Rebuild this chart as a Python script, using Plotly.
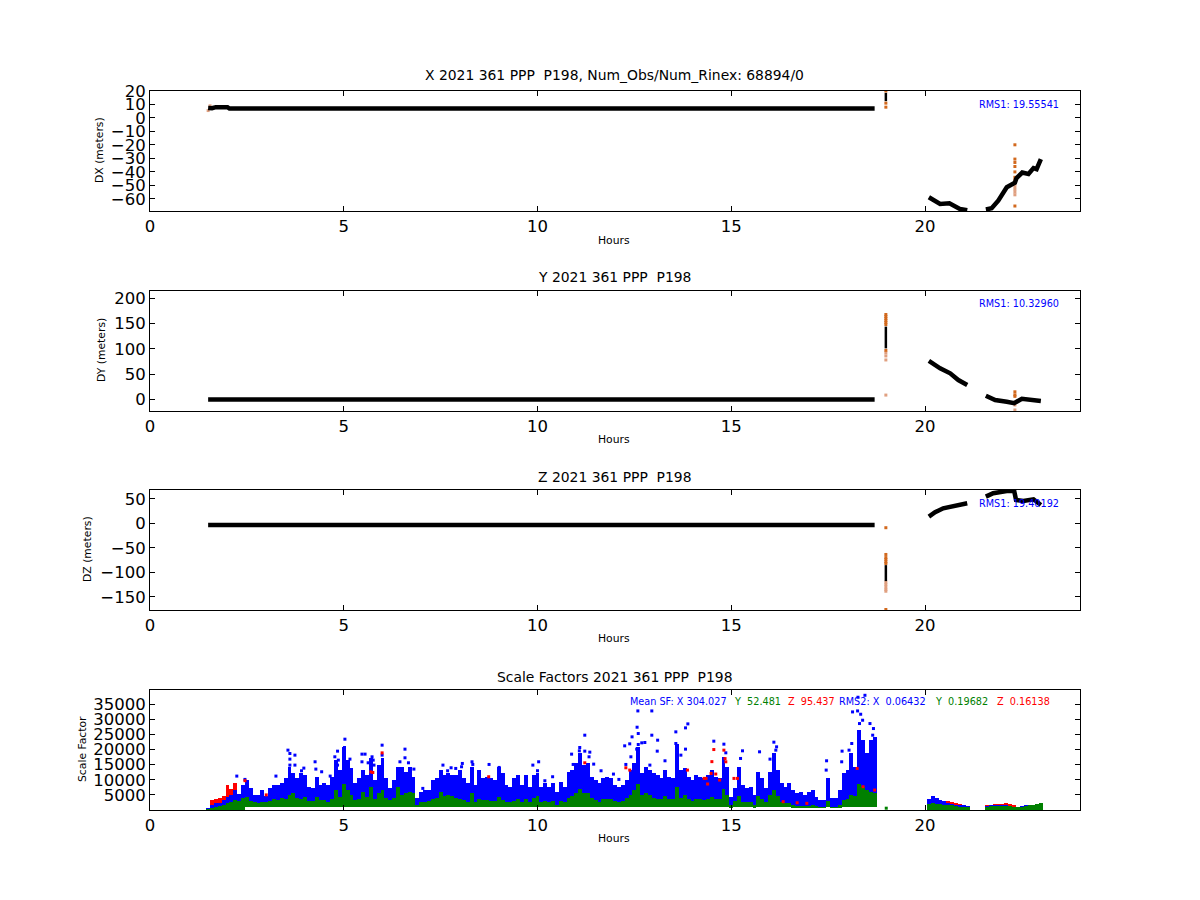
import plotly.graph_objects as go

# values
X_TICKS = [0, 5, 10, 15, 20]
DX_TICKS = [20, 10, 0, -10, -20, -30, -40, -50, -60]
DY_TICKS = [0, 50, 100, 150, 200]
DZ_TICKS = [50, 0, -50, -100, -150]
SF_TICKS = [5000, 10000, 15000, 20000, 25000, 30000, 35000]

DX_HOURS = [1.5, 1.6, 1.7, 2.0, 2.05, 18.7, None,
            20.1, 20.26, 20.39, 20.63, 20.77, 20.9, 21.09, None,
            21.57, 21.72, 21.89, 22.11, 22.32, 22.36, 22.51, 22.67, 22.8, 22.88, 22.99]
DX_VALUES = [7.4, 7.2, 8, 8, 7, 7, None,
             -58.8, -62.1, -63.8, -63.3, -65.8, -67.5, -68.5, None,
             -67.8, -67, -61.3, -51.4, -48, -44.7, -40.5, -41.5, -37.2, -38, -30.5]
DX_SPIKE_HOURS = [18.99, 18.99]
DX_SPIKE_VALUES = [12.5, 18.6]
DX_OUT_HOURS = [18.99, 18.99, 18.99, 22.32, 22.32, 22.32, 22.32, 22.32, 22.32, 22.32, 22.32]
DX_OUT_VALUES = [20, 11, 8, -19.9, -30.5, -33, -36, -40, -44, -46, -65.3]
DX_PALE_HOURS = [22.32, 22.32, 22.32, 22.32, 22.32, 1.5, 1.55]
DX_PALE_VALUES = [-49, -51, -53, -55, -57, 5.5, 9]

DY_HOURS = [1.5, 18.7, None,
            20.1, 20.39, 20.65, 20.86, 21.09, None,
            21.57, 21.81, 22.11, 22.3, 22.5, 22.75, 22.99]
DY_VALUES = [0, 0, None,
             76, 61.5, 51.6, 38.3, 28.4, None,
             7.2, -1.4, -4.7, -7.4, 1.3, -1.4, -3.4]
DY_SPIKE_HOURS = [18.99, 18.99]
DY_SPIKE_VALUES = [101, 144]
DY_OUT_HOURS = [18.99, 18.99, 18.99, 18.99, 18.99, 18.99, 18.99, 22.32, 22.32, 22.32, 22.32]
DY_OUT_VALUES = [168, 164, 160, 156, 152, 148, 97, 15, 9, 6, -6]
DY_PALE_HOURS = [18.99, 18.99, 18.99, 18.99, 22.32, 22.32]
DY_PALE_VALUES = [92, 86, 78, 8.5, -11, -21]

DZ_HOURS = [1.5, 18.7, None,
            20.1, 20.26, 20.47, 20.81, 21.09, None,
            21.57, 21.76, 22.11, 22.3, 22.35, 22.54, 22.8, 22.99]
DZ_VALUES = [-3.5, -3.5, None,
             13.5, 22.5, 30.7, 35.4, 41, None,
             54.5, 61.5, 66, 66.5, 47.7, 45.7, 49, 37.5]
DZ_SPIKE_HOURS = [18.99, 18.99]
DZ_SPIKE_VALUES = [-85.4, -118]
DZ_OUT_HOURS = [18.99, 18.99, 18.99, 18.99, 18.99, 18.99, 18.99]
DZ_OUT_VALUES = [-9, -63.6, -70, -74, -78.6, -82, -176]
DZ_PALE_HOURS = [18.99, 18.99, 18.99, 18.99, 18.99]
DZ_PALE_VALUES = [-120, -125, -130, -135, -138.7]

SF_HOURS = [
    1.5, 1.6, 1.7, 1.8, 1.9, 2.0, 2.1, 2.2, 2.3, 2.4,
    2.5, 2.6, 2.7, 2.8, 2.9, 3.0, 3.1, 3.2, 3.3, 3.4,
    3.5, 3.6, 3.7, 3.8, 3.9, 4.0, 4.1, 4.2, 4.3, 4.4,
    4.5, 4.6, 4.7, 4.8, 4.9, 5.0, 5.1, 5.2, 5.3, 5.4,
    5.5, 5.6, 5.7, 5.8, 5.9, 6.0, 6.1, 6.2, 6.3, 6.4,
    6.5, 6.6, 6.7, 6.8, 6.9, 7.0, 7.1, 7.2, 7.3, 7.4,
    7.5, 7.6, 7.7, 7.8, 7.9, 8.0, 8.1, 8.2, 8.3, 8.4,
    8.5, 8.6, 8.7, 8.8, 8.9, 9.0, 9.1, 9.2, 9.3, 9.4,
    9.5, 9.6, 9.7, 9.8, 9.9, 10.0, 10.1, 10.2, 10.3, 10.4,
    10.5, 10.6, 10.7, 10.8, 10.9, 11.0, 11.1, 11.2, 11.3, 11.4,
    11.5, 11.6, 11.7, 11.8, 11.9, 12.0, 12.1, 12.2, 12.3, 12.4,
    12.5, 12.6, 12.7, 12.8, 12.9, 13.0, 13.1, 13.2, 13.3, 13.4,
    13.5, 13.6, 13.7, 13.8, 13.9, 14.0, 14.1, 14.2, 14.3, 14.4,
    14.5, 14.6, 14.7, 14.8, 14.9, 15.0, 15.1, 15.2, 15.3, 15.4,
    15.5, 15.6, 15.7, 15.8, 15.9, 16.0, 16.1, 16.2, 16.3, 16.4,
    16.5, 16.6, 16.7, 16.8, 16.9, 17.0, 17.1, 17.2, 17.3, 17.4,
    17.5, 17.6, 17.7, 17.8, 17.9, 18.0, 18.1, 18.2, 18.3, 18.4,
    18.5, 18.6, 18.7,
    20.1, 20.2, 20.3, 20.4, 20.5, 20.6, 20.7, 20.8, 20.9, 21.0, 21.1,
    21.6, 21.7, 21.8, 21.9, 22.0, 22.1, 22.2, 22.3, 22.4, 22.5, 22.6, 22.7, 22.8, 22.9, 23.0,
]
SF_BLUE = [
    550, 1650, 2200, 2400, 3300, 4400, 5000, 6600, 5300, 8250,
    9900, 7150, 5000, 5000, 6600, 4600, 7150, 8250, 8250, 8800,
    10450, 14300, 12100, 10450, 12100, 11550, 7700, 7150, 11000, 8250,
    8800, 8250, 11000, 16500, 13200, 20900, 16500, 13750, 8800, 10450,
    13200, 11550, 17050, 9900, 14850, 17050, 10450, 7150, 9900, 14300,
    14300, 12650, 14300, 11000, 3850, 6050, 6600, 6600, 9900, 10450,
    13200, 11550, 12100, 11550, 11550, 13200, 10450, 8800, 14300, 8250,
    13200, 10450, 11000, 10450, 9900, 14300, 12100, 8250, 7700, 10450,
    11550, 8250, 11550, 7700, 11550, 12100, 7700, 8800, 7700, 8800,
    6050, 9350, 7700, 12650, 13200, 15400, 18700, 14850, 15400, 11000,
    9900, 8800, 10450, 11000, 10450, 8250, 7700, 8250, 9900, 13200,
    15400, 20900, 12100, 14300, 13200, 12100, 11550, 10450, 13200, 11000,
    10450, 22000, 13200, 13750, 11000, 9900, 11550, 11000, 10450, 11550,
    13200, 11000, 10450, 17600, 14300, 4400, 7150, 14300, 8250, 7150,
    7700, 5000, 12650, 10450, 7150, 12650, 18700, 13200, 8800, 7700,
    8800, 6600, 5500, 6050, 5000, 6050, 6600, 4400, 3300, 3300,
    10450, 3850, 3850, 6600, 12100, 13200, 18700, 14300, 26400, 23100,
    18700, 23100, 24200,
    3520, 4620, 3850, 3300, 2860, 2200, 1900, 1800, 1650, 1500, 1320,
    1430, 1500, 1550, 1600, 1600, 1650, 1400, 1000, 900, 1430, 1500, 1600, 1650, 1900, 2200,
]
SF_GREEN = [
    200, 800, 1100, 1300, 1500, 2200, 2750, 3300, 3000, 4000,
    4400, 3000, 2500, 2400, 2800, 2700, 3000, 3600, 3300, 4000,
    3600, 4800, 5500, 4000, 3800, 4200, 3000, 3000, 4400, 3300,
    3300, 2800, 3800, 6600, 4400, 8500, 6500, 4800, 3300, 3600,
    6000, 4400, 7700, 3500, 5500, 6500, 4000, 3300, 4000, 7500,
    5000, 5500, 6000, 5500, 1800, 2500, 2800, 3000, 3500, 4000,
    6000, 4500, 5000, 4500, 4000, 3800, 3300, 2800, 5500, 2800,
    3600, 3300, 3300, 3000, 3000, 4400, 3300, 2800, 2500, 3000,
    3500, 2800, 3500, 2500, 4000, 4500, 2500, 3000, 2800, 3000,
    1800, 3000, 2500, 4000, 4500, 5500, 7000, 5500, 5500, 4000,
    3300, 2800, 3500, 3800, 3500, 3000, 2500, 3000, 4000, 5000,
    6500, 8500, 5000, 5500, 5000, 4000, 3500, 3500, 4500, 3500,
    3500, 7500, 4000, 5000, 3500, 3000, 3500, 3500, 3300, 3800,
    4400, 3500, 3500, 7000, 5000, 1500, 3000, 4500, 2800, 2500,
    2500, 1500, 4500, 3500, 2500, 5000, 6500, 4500, 2500, 2200,
    2200, 1500, 1200, 1300, 1100, 1300, 1500, 1000, 800, 800,
    3000, 700, 800, 1500, 3300, 3500, 5000, 4500, 8500, 7500,
    6500, 6000, 5500,
    1870, 2200, 2100, 1900, 1800, 1700, 1550, 1300, 1100, 1000, 880,
    1100, 1200, 1250, 1300, 1350, 1430, 1200, 1000, 880, 1100, 1300, 1500, 1650, 1900, 2200,
]
SF_RED_HOURS = [1.6, 1.7, 1.8, 1.9, 2.0, 2.1, 2.2,
                20.1, 20.2, 20.3, 20.4, 20.5, 20.6, 20.7, 20.8, 20.9, 21.0, 21.1,
                21.6, 21.7, 21.8, 21.9, 22.0, 22.1, 22.2, 22.3, 22.4]
SF_RED = [3300, 3520, 3850, 4620, 8250, 6820, 9020,
          3000, 3500, 3600, 3300, 3100, 2900, 2500, 2250, 1900, 1600, 1430,
          1650, 1750, 1870, 1950, 2000, 2200, 2100, 1700, 1100]

BLUE_OUT_HOURS = [
    2.24, 2.45, 3.25, 3.56, 3.61, 3.74, 3.61, 3.61, 3.74, 3.91, 3.97, 4.26, 4.28, 4.43, 4.65,
    4.77, 4.84, 4.86, 4.84, 5.03, 5.02, 5.01, 5.16, 5.47, 5.55, 5.47, 5.73, 5.76, 5.63, 5.99,
    5.99, 5.78, 6.58, 6.45, 6.67, 6.58, 6.71, 6.81, 7.04, 7.56, 7.68, 7.77, 7.89, 8.06, 8.04,
    8.31, 8.33, 8.32, 8.75, 9.01, 9.88, 10.03, 10.0, 10.39, 10.19, 10.88, 11.09, 11.08, 11.22,
    11.22, 11.35, 11.33, 11.45, 10.92, 11.64, 11.96, 12.1, 12.59, 12.57, 12.6, 12.44, 12.25,
    12.38, 12.69, 12.6, 12.41, 12.28, 12.56, 12.77, 12.9, 12.95, 13.88, 13.82, 13.57, 13.57,
    12.95, 13.1, 13.09, 13.29, 13.7, 13.82, 14.55, 14.81, 14.86, 15.29, 15.24, 15.73, 16.1,
    16.17, 16.15, 16.0, 17.46, 17.45, 17.86, 17.85, 18.13, 18.26, 18.34, 18.39, 18.31, 18.58,
    18.67, 18.65, 18.11, 18.04, 18.27, 18.45,
]
BLUE_OUT_VALUES = [
    11220, 10120, 11220, 19800, 18700, 18150, 16830, 14850, 14850, 12980, 13860, 15950, 13530, 12650, 11220,
    17600, 19470, 16500, 14850, 23430, 20680, 19250, 16830, 18480, 18480, 15950, 17600, 16500, 15620, 21450,
    18150, 14850, 20130, 15950, 15620, 17270, 13200, 13530, 7150, 14850, 12980, 13970, 13750, 15400, 14300,
    15950, 15070, 13750, 15070, 14080, 14850, 15950, 13000, 11000, 9680, 18480, 20680, 19580, 24750,
    19470, 19140, 17600, 15180, 15070, 12980, 11880, 10120, 32780, 27390, 25300, 24200, 21230,
    21890, 22220, 21670, 17600, 15070, 20130, 22330, 14850, 32780, 28490, 27170, 25850, 22000,
    24750, 23100, 19470, 16280, 18150, 20130, 22770, 21780, 18920, 19580, 17050, 19250, 22440,
    20900, 19800, 16830, 16280, 13200, 19470, 15950, 32450, 32780, 31680, 29700, 28600, 28600,
    26950, 24750, 22000, 19800, 37300, 37950,
]
RED_OUT_HOURS = [2.45, 5.99, 5.7, 5.75, 3.0, 8.74, 11.22, 12.28, 12.38, 13.87, 14.3, 14.39, 14.35,
                 14.55, 14.5, 14.81, 14.84, 14.86, 15.07, 15.16, 14.48, 14.6, 14.7, 18.25, 18.4, 18.7,
                 16.34, 16.7, 16.95]
RED_OUT_VALUES = [9700, 18900, 12600, 12400, 5000, 11000, 15620, 13970, 13200, 13200, 10450, 8600, 10450,
                  20000, 16000, 19800, 17000, 15950, 10450, 10450, 12100, 11900, 9900, 13750, 7700, 6600,
                  2750, 2400, 2200]
GREEN_OUT_HOURS = [19.0]
GREEN_OUT_VALUES = [600]

RMS_LABELS = ["RMS1: 19.55541", "RMS1: 10.32960", "RMS1: 19.40192"]
PANEL_TITLES = ["X 2021 361 PPP  P198, Num_Obs/Num_Rinex: 68894/0", "Y 2021 361 PPP  P198",
                "Z 2021 361 PPP  P198", "Scale Factors 2021 361 PPP  P198"]

W, H = 1200, 900
PAGE = 8  # the browser's default body margin
FONT = "DejaVu Sans"
ORANGE = "#d2691e"
PALE = "#e0a080"

# panel pixel boxes: top, bottom, y range, ticks, y label, label x, title y, hours y
panels = [
    (91, 211, [-69, 20], DX_TICKS, "DX (meters)", 99, 75, 240),
    (291, 411, [-23, 214.5], DY_TICKS, "DY (meters)", 101, 277, 439),
    (490, 610, [-177, 68], DZ_TICKS, "DZ (meters)", 87, 477, 638),
    (690, 810, [0, 39700], SF_TICKS, "Scale Factor", 82, 677, 838),
]


def note(text, px, py, size, color="black", anchor="center", angle=0):
    return dict(text=text, x=(px - PAGE) / W, y=1 - (py - PAGE) / H, xref="paper", yref="paper", showarrow=False,
                xanchor=anchor, yanchor="middle", textangle=angle, font=dict(size=size, color=color, family=FONT))


fig = go.Figure()
layout = dict(width=W, height=H, margin=dict(l=0, r=0, t=0, b=0, autoexpand=False), showlegend=False, barmode="overlay",
              bargap=0, plot_bgcolor="white", paper_bgcolor="white", font=dict(family=FONT))
notes = []

for i, (top, bottom, yrange, ticks, ylabel, label_x, title_y, hours_y) in enumerate(panels, start=1):
    axis = dict(showgrid=False, zeroline=False, showline=True, linecolor="black", linewidth=1, mirror="ticks",
                ticks="inside", ticklen=5, tickcolor="black", tickwidth=1, tickformat="d",
                tickfont=dict(size=16.5, color="black", family=FONT))
    layout[f"xaxis{i}"] = dict(axis, domain=[(150 - PAGE) / W, (1080 - PAGE) / W], range=[0, 24], tickmode="array",
                               tickvals=X_TICKS, anchor=f"y{i}")
    layout[f"yaxis{i}"] = dict(axis, domain=[1 - (bottom - PAGE) / H, 1 - (top - PAGE) / H], range=yrange, tickmode="array",
                               tickvals=ticks, anchor=f"x{i}")
    notes.append(note(PANEL_TITLES[i - 1], 614.5, title_y, 13.9))
    notes.append(note("Hours", 614, hours_y, 10.8))
    notes.append(note(ylabel, label_x, (top + bottom) / 2 - 1, 10.8, angle=-90))

for i, (hours, values, spike_h, spike_v, out_h, out_v, pale_h, pale_v) in enumerate([
    (DX_HOURS, DX_VALUES, DX_SPIKE_HOURS, DX_SPIKE_VALUES, DX_OUT_HOURS, DX_OUT_VALUES, DX_PALE_HOURS, DX_PALE_VALUES),
    (DY_HOURS, DY_VALUES, DY_SPIKE_HOURS, DY_SPIKE_VALUES, DY_OUT_HOURS, DY_OUT_VALUES, DY_PALE_HOURS, DY_PALE_VALUES),
    (DZ_HOURS, DZ_VALUES, DZ_SPIKE_HOURS, DZ_SPIKE_VALUES, DZ_OUT_HOURS, DZ_OUT_VALUES, DZ_PALE_HOURS, DZ_PALE_VALUES),
], start=1):
    xa, ya = f"x{i}", f"y{i}"
    fig.add_trace(go.Scatter(x=pale_h, y=pale_v, mode="markers", xaxis=xa, yaxis=ya,
                             marker=dict(color=PALE, size=3, symbol="square")))
    fig.add_trace(go.Scatter(x=out_h, y=out_v, mode="markers", xaxis=xa, yaxis=ya,
                             marker=dict(color=ORANGE, size=3, symbol="square")))
    fig.add_trace(go.Scatter(x=spike_h, y=spike_v, mode="lines", xaxis=xa, yaxis=ya,
                             line=dict(color="black", width=2.5)))
    fig.add_trace(go.Scatter(x=hours, y=values, mode="lines", xaxis=xa, yaxis=ya,
                             line=dict(color="black", width=4.5)))

assert len(SF_HOURS) == len(SF_BLUE) == len(SF_GREEN)


def bars(hours, tops, color):
    # the cloud stops a little above the axis in the busy part of the day
    floor = [900 if 2.4 < h < 19 else 0 for h in hours]
    return go.Bar(x=hours, y=[t - b for t, b in zip(tops, floor)], base=floor, width=0.1, xaxis="x4", yaxis="y4",
                  marker=dict(color=color, line=dict(width=0)))


fig.add_trace(go.Bar(x=SF_RED_HOURS, y=SF_RED, width=0.1, xaxis="x4", yaxis="y4",
                     marker=dict(color="#ff0000", line=dict(width=0))))
fig.add_trace(bars(SF_HOURS, SF_BLUE, "#0000ff"))
fig.add_trace(bars(SF_HOURS, SF_GREEN, "#008000"))
for out_h, out_v, color in [(BLUE_OUT_HOURS, BLUE_OUT_VALUES, "#0000ff"), (RED_OUT_HOURS, RED_OUT_VALUES, "#ff0000"),
                            (GREEN_OUT_HOURS, GREEN_OUT_VALUES, "#008000")]:
    fig.add_trace(go.Scatter(x=out_h, y=out_v, mode="markers", xaxis="x4", yaxis="y4",
                             marker=dict(color=color, size=3, symbol="square")))

for text, py in zip(RMS_LABELS, [104.5, 303.5, 503.5]):
    notes.append(note(text, 977, py, 9.7, color="blue", anchor="left"))

for text, px, color in [("Mean SF: X 304.027", 628, "blue"), ("Y  52.481", 732, "green"), ("Z  95.437", 786, "red"),
                        ("RMS2: X  0.06432", 837, "blue"), ("Y  0.19682", 933, "green"), ("Z  0.16138", 995, "red")]:
    notes.append(note(text, px, 701.5, 9.7, color=color, anchor="left"))

layout["annotations"] = notes
fig.update_layout(**layout)
fig.write_html("out.html")
